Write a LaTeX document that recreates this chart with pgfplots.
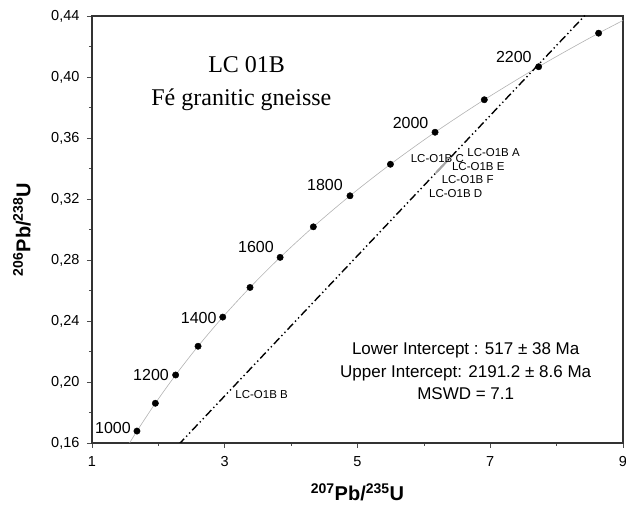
\documentclass[border=0pt]{standalone}
\usepackage{pgfplots}
\pgfplotsset{compat=1.18}
\usepackage{fontspec}
\setmainfont{Liberation Sans}
\newfontfamily\timesfont{Liberation Serif}

% concordia points, every 100 Ma (t, 207Pb/235U, 206Pb/238U)
\pgfplotstableread{
t    x       y
1000 1.6774  0.16782
1100 1.9545  0.18606
1200 2.2603  0.20460
1300 2.5978  0.22344
1400 2.9701  0.24256
1500 3.3810  0.26199
1600 3.8344  0.28172
1700 4.3348  0.30175
1800 4.8869  0.32211
1900 5.4962  0.34277
2000 6.1685  0.36377
2100 6.9104  0.38509
2200 7.7292  0.40674
2300 8.6327  0.42873
}\concordia

\begin{document}
\begin{tikzpicture}
\useasboundingbox (-92pt,-65pt) rectangle (534pt,443pt);
\begin{axis}[
    at={(0,0)}, anchor=south west,
    scale only axis, width=531pt, height=427pt,
    xmin=1, xmax=9, ymin=0.16, ymax=0.44,
    xtick={1,3,5,7,9}, minor xtick={2,4,6,8},
    ytick={0.16,0.20,0.24,0.28,0.32,0.36,0.40,0.44},
    minor ytick={0.18,0.22,0.26,0.30,0.34,0.38,0.42},
    tick align=outside, xtick pos=bottom, ytick pos=left,
    major tick length=5pt, minor tick length=3pt,
    axis line style={black!80, line width=1.1pt},
    tick style={black!70, line width=0.6pt},
    /pgf/number format/assume math mode=true,
    yticklabel style={xshift=-4pt, /pgf/number format/.cd, use comma, fixed, fixed zerofill, precision=2},
    ticklabel style={font=\fontsize{14.5}{16}\selectfont},
    xticklabel style={yshift=-5pt},
    xlabel={\textsuperscript{207}Pb/\textsuperscript{235}U},
    ylabel={\textsuperscript{206}Pb/\textsuperscript{238}U},
    label style={font=\fontsize{20}{22}\selectfont\bfseries},
    xlabel style={at={(axis description cs:0.5,-0.115)}, anchor=center},
    ylabel style={at={(axis description cs:-0.132,0.5)}, anchor=center},
]
% concordia curve
\addplot[gray!60, line width=0.6pt, smooth] coordinates {
    (1.5488,0.15878) (1.6774,0.16782) (1.9545,0.18606) (2.2603,0.20460)
    (2.5978,0.22344) (2.9701,0.24256) (3.3810,0.26199) (3.8344,0.28172)
    (4.3348,0.30175) (4.8869,0.32211) (5.4962,0.34277) (6.1685,0.36377)
    (6.9104,0.38509) (7.7292,0.40674) (8.6327,0.42873) (9.6296,0.45107)
};
% discordia 517 Ma - 2191.2 Ma
\addplot[black, line width=1.4pt,
    dash pattern=on 8pt off 3pt on 1.4pt off 3pt on 1.4pt off 3pt]
    coordinates {(0.6639,0.0835) (9.5,0.4897)};
% analyses (small error ellipses)
\addplot[gray!70, line width=2pt] coordinates {(6.18,0.3371) (6.36,0.3453)};
% age markers
\addplot[only marks, mark=*, mark size=3.2pt, black] table[x=x, y=y] {\concordia};

\begin{scope}[font=\fontsize{16}{18}\selectfont]
\node at (axis cs:1.316,0.1698) {1000};
\node at (axis cs:1.889,0.2046) {1200};
\node at (axis cs:2.607,0.2422) {1400};
\node at (axis cs:3.470,0.2887) {1600};
\node at (axis cs:4.509,0.3292) {1800};
\node at (axis cs:5.800,0.3700) {2000};
\node at (axis cs:7.355,0.4133) {2200};
\end{scope}

\begin{scope}[font=\fontsize{11.5}{12}\selectfont]
\node at (axis cs:6.203,0.3467) {LC-O1B C};
\node at (axis cs:7.05,0.3503) {LC-O1B A};
\node at (axis cs:6.82,0.3416) {LC-O1B E};
\node at (axis cs:6.66,0.3325) {LC-O1B F};
\node at (axis cs:6.48,0.3237) {LC-O1B D};
\node at (axis cs:3.555,0.1921) {LC-O1B B};
\end{scope}

\node[anchor=base, font=\timesfont\fontsize{24}{26}\selectfont] at (axis cs:3.33,0.4028) {LC 01B};
\node[anchor=base, font=\timesfont\fontsize{24}{26}\selectfont] at (axis cs:3.25,0.3816) {Fé granitic gneisse};

\node[align=center, font=\fontsize{17}{22.5}\selectfont] at (axis cs:6.63,0.2070)
    {Lower Intercept : 517 ± 38 Ma\\Upper Intercept: 2191.2 ± 8.6 Ma\\MSWD = 7.1};
\end{axis}
\end{tikzpicture}
\end{document}
